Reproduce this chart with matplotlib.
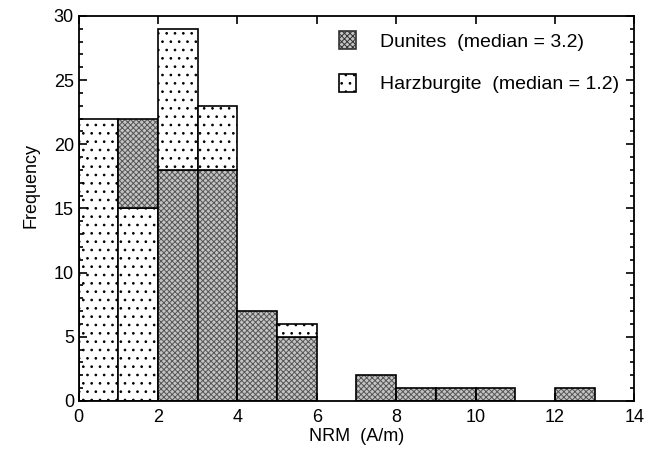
import matplotlib
matplotlib.use("Agg")
import matplotlib.pyplot as plt
import matplotlib.patches as mpatches
import numpy as np

plt.rcParams['font.family'] = ['Liberation Sans', 'DejaVu Sans']
plt.rcParams['hatch.linewidth'] = 0.7

bin_left = list(range(0, 14))
dunites = [0, 7, 18, 18, 7, 5, 0, 2, 1, 1, 1, 0, 1, 0]
harzburgite = [22, 15, 11, 5, 0, 1, 0, 0, 0, 0, 0, 0, 0, 0]
harz_below = [True, True, False, False, False, False, False, False, False, False, False, False, False, False]

dun_fill = dict(facecolor='#c4c4c4', edgecolor='#555555', hatch='xxxxxx', linewidth=0)
harz_fill = dict(facecolor='white', edgecolor='black', hatch='..', linewidth=0)
outline = dict(fill=False, edgecolor='black', linewidth=1.2)

fig = plt.figure(figsize=(6.62, 4.53), dpi=100)
ax = fig.add_axes([0.119, 0.115, 0.839, 0.85])


def draw(x, height, bottom, style):
    ax.bar(x, height, width=1, align='edge', bottom=bottom, **style)
    ax.bar(x, height, width=1, align='edge', bottom=bottom, **outline)


for x, d, h, hb in zip(bin_left, dunites, harzburgite, harz_below):
    if hb:
        if h:
            draw(x, h, 0, harz_fill)
        if d:
            draw(x, d, h, dun_fill)
    else:
        if d:
            draw(x, d, 0, dun_fill)
        if h:
            draw(x, h, d, harz_fill)

ax.set_xlim(0, 14)
ax.set_ylim(0, 30)
ax.set_xticks(np.arange(0, 15, 2))
ax.set_yticks(np.arange(0, 31, 5))
ax.set_yticks(np.arange(0, 31, 1), minor=True)
ax.tick_params(axis='both', which='both', direction='in', top=True, right=True, labelsize=13, width=1.2)
ax.tick_params(axis='both', which='major', length=6)
ax.tick_params(axis='y', which='minor', length=3)
ax.tick_params(axis='x', which='major', pad=6)
for s in ax.spines.values():
    s.set_linewidth(1.3)

ax.set_xlabel('NRM  (A/m)', fontsize=13, labelpad=1)
ax.set_ylabel('Frequency', fontsize=13)
ax.yaxis.set_label_coords(-0.07, 0.56)

h1 = mpatches.Patch(facecolor='#c4c4c4', edgecolor='#333333', hatch='xxxxxx', linewidth=1.2,
                    label='Dunites  (median = 3.2)')
h2 = mpatches.Patch(facecolor='white', edgecolor='black', hatch='..', linewidth=1.2,
                    label='Harzburgite  (median = 1.2)')
ax.legend(handles=[h1, h2], loc='upper right', frameon=False, fontsize=14,
          handlelength=0.9, handleheight=1.0, handletextpad=1.2, labelspacing=1.2,
          borderaxespad=0.4)

fig.savefig('out.png', dpi=100)
